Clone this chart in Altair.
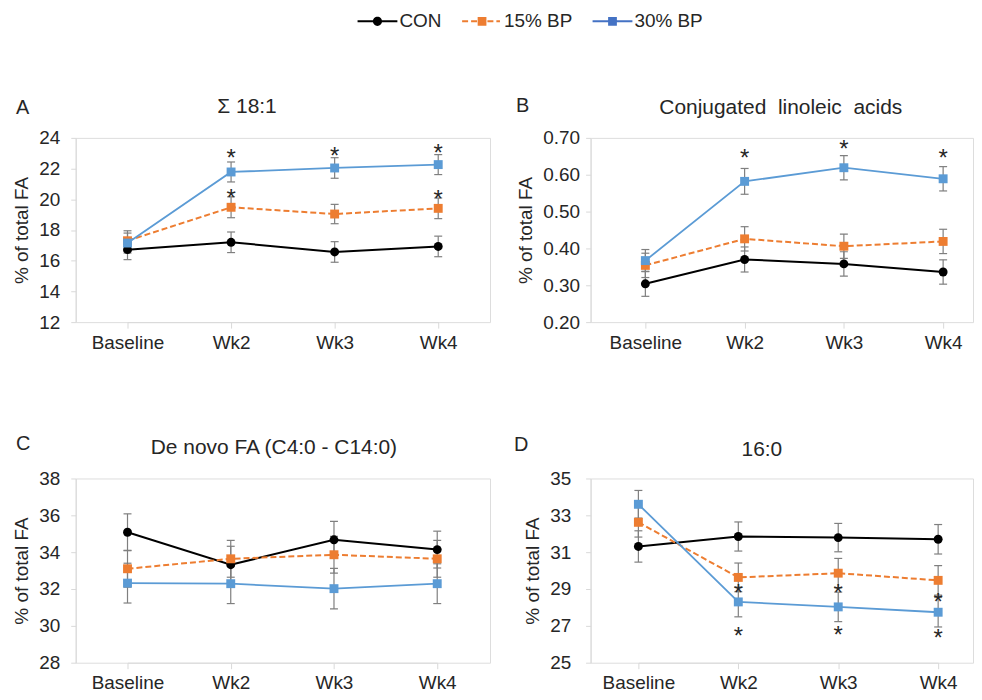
import altair as alt
import pandas as pd

FONT = "Liberation Sans"
TXT = "#262626"
ERR = "#7f7f7f"
AXC = "#d9d9d9"

cats = ["Baseline", "Wk2", "Wk3", "Wk4"]
groups = ["CON", "15% BP", "30% BP"]

# Panel A: Σ 18:1
a_con = [16.72, 17.20, 16.57, 16.93]
a_con_err = [0.65, 0.67, 0.67, 0.67]
a_bp15 = [17.30, 19.48, 19.04, 19.41]
a_bp15_err = [0.65, 0.68, 0.63, 0.67]
a_bp30 = [17.15, 21.78, 22.04, 22.26]
a_bp30_err = [0.65, 0.65, 0.67, 0.65]
a_star15 = [None, 20.30, None, 20.24]
a_star30 = [None, 22.91, 23.02, 23.24]

# Panel B: Conjugated linoleic acids
b_con = [0.304, 0.370, 0.358, 0.336]
b_con_err = [0.034, 0.034, 0.033, 0.033]
b_bp15 = [0.354, 0.426, 0.406, 0.419]
b_bp15_err = [0.033, 0.033, 0.033, 0.033]
b_bp30 = [0.367, 0.582, 0.619, 0.589]
b_bp30_err = [0.030, 0.035, 0.033, 0.033]
b_star15 = [None, None, None, None]
b_star30 = [None, 0.655, 0.680, 0.655]

# Panel C: De novo FA
c_con = [35.08, 33.32, 34.67, 34.14]
c_con_err = [1.00, 1.00, 1.00, 1.00]
c_bp15 = [33.10, 33.64, 33.86, 33.64]
c_bp15_err = [1.00, 1.00, 1.00, 1.00]
c_bp30 = [32.32, 32.29, 32.02, 32.29]
c_bp30_err = [1.08, 1.08, 1.10, 1.08]
c_star15 = [None, None, None, None]
c_star30 = [None, None, None, None]

# Panel D: 16:0
d_con = [31.31, 31.85, 31.79, 31.70]
d_con_err = [0.85, 0.79, 0.77, 0.80]
d_bp15 = [32.62, 29.63, 29.86, 29.47]
d_bp15_err = [0.80, 0.78, 0.80, 0.80]
d_bp30 = [33.60, 28.30, 28.03, 27.74]
d_bp30_err = [0.75, 0.81, 0.80, 0.80]
d_star15 = [None, 28.96, 28.96, 28.46]
d_star30 = [None, 26.66, 26.69, 26.53]

COL = {"CON": "#000000", "15% BP": "#ED7D31", "30% BP": "#5B9BD5"}
SHP = {"CON": "circle", "15% BP": "square", "30% BP": "square"}
LINE = {
    "CON": dict(strokeWidth=2),
    "15% BP": dict(strokeWidth=2, strokeDash=[6, 3]),
    "30% BP": dict(strokeWidth=1.8),
}


def make_df(con, con_e, b15, b15_e, b30, b30_e, s15, s30):
    rows = []
    for g, m, e, s in [("CON", con, con_e, [None] * 4), ("15% BP", b15, b15_e, s15), ("30% BP", b30, b30_e, s30)]:
        for i, c in enumerate(cats):
            rows.append(dict(idx=i, cat=c, group=g, mean=m[i], lo=m[i] - e[i], hi=m[i] + e[i], star=s[i]))
    return pd.DataFrame(rows)


x_axis = alt.Axis(
    title=None, labelAngle=0, labelFontSize=19, labelFont=FONT, labelColor=TXT,
    labelPadding=5, domainColor=AXC, tickColor=AXC, tickSize=6, grid=False,
)


def panel(df, yvals, fmt, xrange, width, height, lpad, title, tx, ty, letter, lx, ly, extra=None):
    xenc = alt.X("cat:N", sort=cats,
                 scale=alt.Scale(type="point", domain=cats, range=xrange, padding=0),
                 axis=x_axis)
    yscale = alt.Scale(domain=[yvals[0], yvals[-1]], nice=False, zero=False)
    yax = alt.Axis(
        title="% of total FA", values=yvals, format=fmt, labelFontSize=19, labelFont=FONT,
        labelColor=TXT, labelPadding=lpad, tickSize=5, domainColor=AXC, tickColor=AXC, grid=False,
        titleFontSize=19, titleFont=FONT, titleColor=TXT, titleFontWeight="normal", titlePadding=7,
    )

    def Y(f):
        return alt.Y(f"{f}:Q", scale=yscale, axis=yax)

    layers = []
    for g in groups:
        base = alt.Chart(df).transform_filter(alt.datum.group == g)
        layers.append(base.mark_rule(color=ERR, strokeWidth=1.2).encode(x=xenc, y=Y("lo"), y2="hi:Q"))
        layers.append(base.mark_tick(color=ERR, size=8, thickness=1.2, opacity=1).encode(x=xenc, y=Y("lo")))
        layers.append(base.mark_tick(color=ERR, size=8, thickness=1.2, opacity=1).encode(x=xenc, y=Y("hi")))
    for g in groups:
        base = alt.Chart(df).transform_filter(alt.datum.group == g)
        layers.append(base.mark_line(color=COL[g], **LINE[g]).encode(x=xenc, y=Y("mean"), order="idx:Q"))
        layers.append(base.mark_point(shape=SHP[g], filled=True, size=80, color=COL[g], opacity=1).encode(x=xenc, y=Y("mean")))
    layers.append(
        alt.Chart(df).transform_filter("isValid(datum.star)")
        .mark_text(text="*", fontSize=24, font=FONT, color=TXT, baseline="middle", dy=4.5)
        .encode(x=xenc, y=Y("star"))
    )
    layers.append(
        alt.Chart(pd.DataFrame({"t": [title]}))
        .mark_text(align="center", baseline="alphabetic", fontSize=21, font=FONT, color=TXT)
        .encode(text="t:N", x=alt.value(tx), y=alt.value(ty))
    )
    layers.append(
        alt.Chart(pd.DataFrame({"t": [letter]}))
        .mark_text(align="left", baseline="alphabetic", fontSize=20, font=FONT, color=TXT)
        .encode(text="t:N", x=alt.value(lx), y=alt.value(ly))
    )
    if extra is not None:
        layers.append(extra)
    return alt.layer(*layers).properties(width=width, height=height)


# legend symbols: line + marker, drawn as custom paths in the unit box
p_con = ("M-1,-0.05H-0.2V0.05H-1Z M0.2,-0.05H1V0.05H0.2Z "
         "M-0.23,0A0.23,0.23 0 1,1 0.23,0A0.23,0.23 0 1,1 -0.23,0Z")
p_15 = ("M-1,-0.05H-0.7V0.05H-1Z M-0.55,-0.05H-0.25V0.05H-0.55Z "
        "M-0.22,-0.22H0.22V0.22H-0.22Z M0.27,-0.05H0.57V0.05H0.27Z M0.72,-0.05H0.9V0.05H0.72Z")
p_30 = "M-1,-0.05H1V0.05H-1Z M-0.22,-0.22H0.22V0.22H-0.22Z"

leg = alt.Legend(
    title=None, orient="none", legendX=283, legendY=-137, direction="horizontal",
    symbolSize=1600, symbolStrokeWidth=0, symbolOpacity=1, labelFontSize=19, labelFont=FONT,
    labelColor=TXT, labelOffset=2, columnPadding=20,
)
# legend only: no rows are drawn, the entries come from the scale domain
legend_layer = (
    alt.Chart(pd.DataFrame({"group": groups}))
    .transform_filter("false")
    .mark_point(filled=True, opacity=1)
    .encode(
        color=alt.Color("group:N", scale=alt.Scale(domain=groups, range=["#000000", "#ED7D31", "#4472C4"]), legend=leg),
        shape=alt.Shape("group:N", scale=alt.Scale(domain=groups, range=[p_con, p_15, p_30]), legend=leg),
    )
)

dfA = make_df(a_con, a_con_err, a_bp15, a_bp15_err, a_bp30, a_bp30_err, a_star15, a_star30)
dfB = make_df(b_con, b_con_err, b_bp15, b_bp15_err, b_bp30, b_bp30_err, b_star15, b_star30)
dfC = make_df(c_con, c_con_err, c_bp15, c_bp15_err, c_bp30, c_bp30_err, c_star15, c_star30)
dfD = make_df(d_con, d_con_err, d_bp15, d_bp15_err, d_bp30, d_bp30_err, d_star15, d_star30)

pA = panel(dfA, [12, 14, 16, 18, 20, 22, 24], "d", [52, 364], 416, 185, 11,
           "Σ 18:1", 172, -25, "A", -60, -24, extra=legend_layer)
pB = panel(dfB, [0.2, 0.3, 0.4, 0.5, 0.6, 0.7], ".2f", [55, 354], 384, 185, 6,
           "Conjugated\u00a0 linoleic\u00a0 acids", 191, -24, "B", -75, -26)
pC = panel(dfC, [28, 30, 32, 34, 36, 38], "d", [52, 363], 416, 185, 11,
           "De novo FA (C4:0 - C14:0)", 199, -25, "C", -60, -29)
pD = panel(dfD, [25, 27, 29, 31, 33, 35], "d", [48, 349], 384, 185, 15,
           "16:0", 172, -23, "D", -77, -28)

chart = alt.concat(pA, pB, pC, pD, columns=2, spacing={"row": 157, "column": 101}).properties(
    bounds="flush",
    padding={"left": 4, "top": -8, "right": 0, "bottom": 0},
).configure_view(stroke=None).configure(background="white")

chart.save("out.html", embed_options={"renderer": "svg", "actions": False})
